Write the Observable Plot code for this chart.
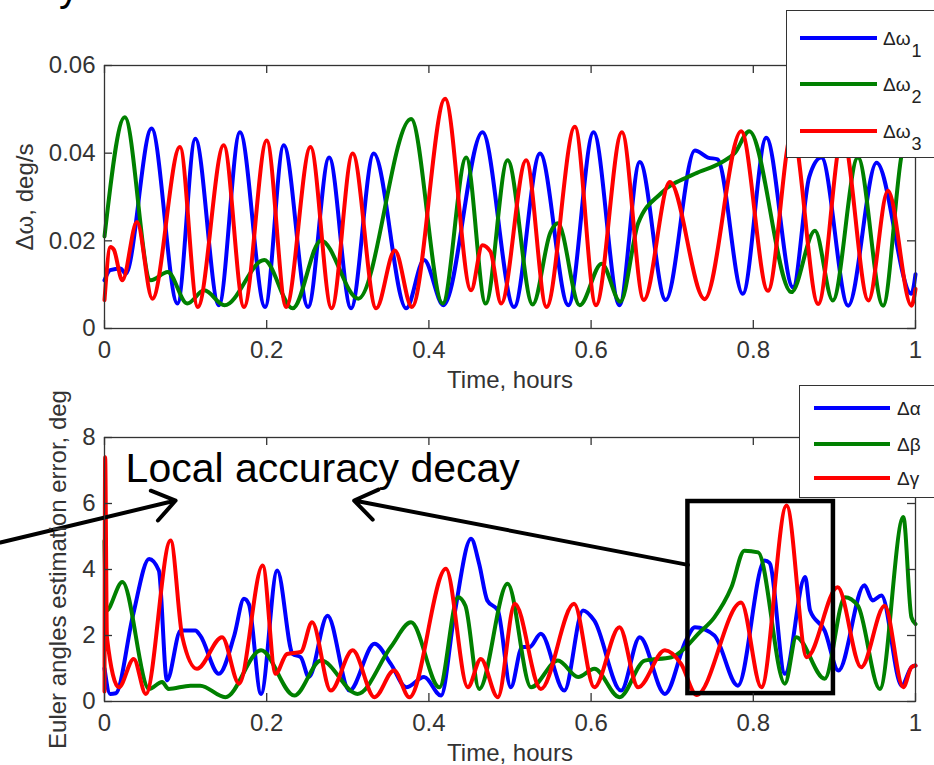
<!DOCTYPE html>
<html><head><meta charset="utf-8">
<script src="https://cdn.jsdelivr.net/npm/d3@7"></script>
<script src="https://cdn.jsdelivr.net/npm/@observablehq/plot@0.6"></script>
<style>
body{margin:0;background:#fff;font-family:"Liberation Sans",Arial,sans-serif;}
#wrap{position:relative;width:934px;height:765px;overflow:hidden;background:#fff;}
.panel{position:absolute;left:0;}
.legend{position:absolute;background:#fff;border:1px solid #333;box-sizing:border-box;}
.legend .ln{position:absolute;height:4px;}
.legend .lt{position:absolute;font-size:19px;line-height:19px;color:#222;white-space:nowrap;}
.legend .sub{position:relative;top:12px;font-size:18px;margin-left:1px;}
</style></head><body><div id="wrap"></div>
<script>
// ---------- data ----------
const xTicks = [0, 0.2, 0.4, 0.6, 0.8, 1];
const xTickLabels = ["0", "0.2", "0.4", "0.6", "0.8", "1"];
const topYTicks = [0, 0.02, 0.04, 0.06];
const topYTickLabels = ["0", "0.02", "0.04", "0.06"];
const botYTicks = [0, 2, 4, 6, 8];
const botYTickLabels = ["0", "2", "4", "6", "8"];
const xLabel = "Time, hours";
const topYLabel = "Δω, deg/s";
const botYLabel = "Euler angles estimation error, deg";
const topSeries = ["Δω1", "Δω2", "Δω3"];
const topLegendBase = ["Δω", "Δω", "Δω"];
const topLegendSub = ["1", "2", "3"];
const botSeries = ["Δα", "Δβ", "Δγ"];
const seriesColors = ["#0000ff", "#008000", "#ff0000"];

// top panel: angular rate errors [time h, deg/s]
const dw1 = [[0,0.011],[0.007,0.0133],[0.02,0.0137],[0.026,0.0125],[0.058,0.0456],[0.090,0.0057],[0.112,0.0433],[0.141,0.0053],[0.167,0.0448],[0.198,0.0049],[0.221,0.0418],[0.251,0.0049],[0.277,0.039],[0.304,0.0046],[0.332,0.0399],[0.372,0.0046],[0.394,0.0156],[0.418,0.0053],[0.466,0.0448],[0.505,0.0049],[0.537,0.0399],[0.572,0.0053],[0.603,0.0448],[0.635,0.0053],[0.660,0.038],[0.692,0.0065],[0.728,0.0406],[0.744,0.039],[0.756,0.0386],[0.787,0.0079],[0.816,0.0435],[0.849,0.0094],[0.869,0.0346],[0.884,0.039],[0.917,0.0052],[0.952,0.0378],[0.995,0.0079],[1.0,0.0124]];
const dw2 = [[0,0.021],[0.025,0.0482],[0.057,0.011],[0.078,0.0129],[0.102,0.0057],[0.123,0.0087],[0.148,0.0053],[0.197,0.0156],[0.232,0.0046],[0.267,0.0201],[0.313,0.0068],[0.378,0.0478],[0.417,0.0057],[0.446,0.039],[0.470,0.0057],[0.497,0.0384],[0.528,0.0055],[0.550,0.022],[0.559,0.024],[0.586,0.0053],[0.613,0.0148],[0.636,0.0061],[0.658,0.024],[0.686,0.0308],[0.728,0.0353],[0.760,0.0378],[0.777,0.040],[0.795,0.045],[0.847,0.0083],[0.876,0.0223],[0.898,0.0064],[0.929,0.039],[0.960,0.0052],[0.983,0.0397],[0.992,0.046]];
const dw3 = [[0,0.0065],[0.0074,0.0186],[0.0115,0.018],[0.022,0.011],[0.040,0.0243],[0.059,0.0068],[0.093,0.0414],[0.115,0.0049],[0.147,0.0418],[0.172,0.0049],[0.200,0.0429],[0.224,0.0049],[0.254,0.0414],[0.280,0.0046],[0.306,0.0399],[0.335,0.0046],[0.358,0.0178],[0.379,0.0049],[0.420,0.0524],[0.452,0.0087],[0.466,0.019],[0.476,0.0175],[0.489,0.0057],[0.520,0.0384],[0.545,0.0049],[0.580,0.046],[0.606,0.0053],[0.638,0.0448],[0.665,0.0065],[0.697,0.0334],[0.740,0.0067],[0.785,0.045],[0.818,0.0086],[0.848,0.045],[0.880,0.0056],[0.910,0.044],[0.942,0.0064],[0.966,0.0314],[0.995,0.0052],[1.0,0.009]];

// bottom panel: Euler angle errors [time h, deg]
const dAlpha = [[0,1.0],[0.007,0.23],[0.014,0.25],[0.035,2.6],[0.055,4.32],[0.067,3.97],[0.077,0.64],[0.094,2.15],[0.112,2.15],[0.118,2.0],[0.141,0.84],[0.160,2.0],[0.172,3.11],[0.178,2.95],[0.193,0.23],[0.213,3.97],[0.232,1.44],[0.242,1.34],[0.252,0.74],[0.275,2.6],[0.302,0.33],[0.333,1.75],[0.353,1.14],[0.372,0.43],[0.394,0.74],[0.415,0.18],[0.431,2.56],[0.452,4.93],[0.462,4.17],[0.472,3.06],[0.485,2.76],[0.501,0.43],[0.515,1.65],[0.524,1.65],[0.538,2.05],[0.567,0.33],[0.590,2.76],[0.604,2.45],[0.637,0.33],[0.660,1.95],[0.691,0.23],[0.717,1.85],[0.728,2.25],[0.752,2.0],[0.781,0.48],[0.814,4.27],[0.820,4.2],[0.839,0.84],[0.864,3.77],[0.870,2.76],[0.888,2.15],[0.905,0.94],[0.937,3.52],[0.947,3.06],[0.958,3.21],[0.983,0.48],[0.995,1.04],[1.0,1.09]];
const dBeta = [[0,4.87],[0.002,2.75],[0.022,3.62],[0.055,0.38],[0.071,0.59],[0.079,0.38],[0.106,0.48],[0.118,0.48],[0.149,0.13],[0.193,1.55],[0.234,0.18],[0.267,1.24],[0.312,0.23],[0.353,1.65],[0.378,2.4],[0.413,0.43],[0.436,3.16],[0.445,2.9],[0.462,0.38],[0.497,3.57],[0.526,0.43],[0.559,1.24],[0.584,0.74],[0.604,0.99],[0.635,0.13],[0.666,1.24],[0.699,1.34],[0.717,1.65],[0.732,2.05],[0.752,2.55],[0.773,3.46],[0.789,4.57],[0.806,4.52],[0.839,0.54],[0.853,1.95],[0.888,0.69],[0.913,3.16],[0.929,2.9],[0.956,0.38],[0.985,5.59],[0.995,2.55],[1.0,2.35]];
const dGamma = [[0,0.3],[0.0008,7.4],[0.003,1.95],[0.0177,0.43],[0.036,1.29],[0.051,0.23],[0.0815,4.88],[0.096,1.95],[0.114,0.99],[0.145,1.95],[0.166,0.54],[0.195,4.12],[0.211,0.84],[0.225,1.44],[0.242,1.5],[0.256,2.4],[0.279,0.33],[0.306,1.55],[0.333,0.13],[0.357,0.94],[0.376,0.13],[0.421,4.02],[0.448,0.43],[0.464,1.29],[0.485,0.13],[0.506,2.96],[0.538,0.38],[0.579,2.96],[0.604,0.43],[0.635,2.25],[0.658,0.43],[0.691,1.55],[0.711,1.14],[0.730,0.2],[0.785,3.0],[0.810,0.43],[0.841,5.94],[0.866,1.34],[0.904,3.46],[0.933,1.04],[0.962,2.9],[0.985,0.43],[0.995,1.04],[1.0,1.09]];

// annotations (bottom panel, data units)
const annoText = [{x: 0.026, y: 7.06, text: "Local accuracy decay"}];
const annoArrows = [{x1: -0.1284, y1: 4.82, x2: 0.0877, y2: 6.09}, {x1: 0.7194, y1: 4.14, x2: 0.3078, y2: 6.09}];
const annoBox = [{x1: 0.7194, x2: 0.8988, y1: 0.24, y2: 6.06}];

// ---------- build ----------
const wrap = document.getElementById("wrap");
const W = 934, ML = 104, MR = 19;
const font = "'Liberation Sans', Arial, Helvetica, sans-serif";

function toRows(list, names) {
  return list.flatMap((s, k) => s.map(([t, v]) => ({t, v, series: names[k]})));
}

function panel({rows, names, yDomain, yTicks, yTickLabels, yLabel, height, mt, mb, yLabDx, extra}) {
  const innerW = W - ML - MR, innerH = height - mt - mb;
  const stroke = "#333";
  return Plot.plot({
    width: W, height,
    marginLeft: ML, marginRight: MR, marginTop: mt, marginBottom: mb,
    style: {background: "none", fontFamily: font, fontSize: "24px", color: "#333", overflow: "visible"},
    x: {domain: [0, 1]},
    y: {domain: yDomain},
    color: {domain: names, range: seriesColors},
    marks: [
      Plot.line(rows, {x: "t", y: "v", z: "series", stroke: "series", strokeWidth: 4, curve: "monotone-x"}),
      ...extra,
      Plot.frame({stroke, strokeWidth: 1.3}),
      Plot.tickX(xTicks, {x: d => d, insetTop: innerH - 8, stroke, strokeWidth: 1.3}),
      Plot.tickX(xTicks, {x: d => d, insetBottom: innerH - 8, stroke, strokeWidth: 1.3}),
      Plot.tickY(yTicks, {y: d => d, insetRight: innerW - 8, stroke, strokeWidth: 1.3}),
      Plot.tickY(yTicks, {y: d => d, insetLeft: innerW - 8, stroke, strokeWidth: 1.3}),
      Plot.axisX(xTicks, {tickSize: 0, tickPadding: 12, tickFormat: d => xTickLabels[xTicks.indexOf(d)], label: null}),
      Plot.axisY(yTicks, {tickSize: 0, tickPadding: 9, tickFormat: d => yTickLabels[yTicks.indexOf(d)], label: null}),
      Plot.text([xLabel], {frameAnchor: "bottom", dy: 52, text: d => d, textAnchor: "middle", lineAnchor: "middle"}),
      Plot.text([yLabel], {frameAnchor: "left", dx: yLabDx, rotate: -90, text: d => d, textAnchor: "middle", lineAnchor: "middle"})
    ]
  });
}

const topPlot = panel({
  rows: toRows([dw1, dw2, dw3], topSeries), names: topSeries,
  yDomain: [0, 0.06], yTicks: topYTicks, yTickLabels: topYTickLabels, yLabel: topYLabel,
  height: 390, mt: 65, mb: 62, yLabDx: -79, extra: []
});
topPlot.classList.add("panel"); topPlot.style.top = "0px";

const botPlot = panel({
  rows: toRows([dAlpha, dBeta, dGamma], botSeries), names: botSeries,
  yDomain: [0, 8], yTicks: botYTicks, yTickLabels: botYTickLabels, yLabel: botYLabel,
  height: 380, mt: 52, mb: 64, yLabDx: -46,
  extra: [
    Plot.rect(annoBox, {x1: "x1", x2: "x2", y1: "y1", y2: "y2", fill: "none", stroke: "black", strokeWidth: 4.5}),
    Plot.arrow(annoArrows, {x1: "x1", y1: "y1", x2: "x2", y2: "y2", stroke: "black", strokeWidth: 4, headLength: 10, headAngle: 70}),
    Plot.text(annoText, {x: "x", y: "y", text: "text", textAnchor: "start", fontSize: 41, fill: "black"})
  ]
});
botPlot.classList.add("panel"); botPlot.style.top = "385px";

wrap.appendChild(topPlot);
wrap.appendChild(botPlot);

// partial title glyph at the very top (cropped in the original)
const ttl = document.createElementNS("http://www.w3.org/2000/svg", "svg");
ttl.setAttribute("width", 120); ttl.setAttribute("height", 20);
ttl.style.position = "absolute"; ttl.style.left = "0px"; ttl.style.top = "0px";
const tt = document.createElementNS("http://www.w3.org/2000/svg", "text");
tt.setAttribute("x", 59); tt.setAttribute("y", 1); tt.setAttribute("font-size", 40);
tt.setAttribute("font-family", "Liberation Sans, Arial, sans-serif");
tt.textContent = "y";
ttl.appendChild(tt); wrap.appendChild(ttl);

// legends
function legend({left, top, width, height, lineLeft, lineWidth, textLeft, rowsY, base, sub}) {
  const box = document.createElement("div");
  box.className = "legend";
  Object.assign(box.style, {left: left + "px", top: top + "px", width: width + "px", height: height + "px"});
  base.forEach((b, i) => {
    const ln = document.createElement("div");
    ln.className = "ln";
    Object.assign(ln.style, {left: lineLeft + "px", top: (rowsY[i] - 2) + "px", width: lineWidth + "px", background: seriesColors[i]});
    box.appendChild(ln);
    const tx = document.createElement("div");
    tx.className = "lt";
    Object.assign(tx.style, {left: textLeft + "px", top: (rowsY[i] - 9.5) + "px"});
    tx.appendChild(document.createTextNode(b));
    if (sub) { const s = document.createElement("span"); s.className = "sub"; s.textContent = sub[i]; tx.appendChild(s); }
    box.appendChild(tx);
  });
  wrap.appendChild(box);
}
legend({left: 786, top: 10, width: 170, height: 148, lineLeft: 13, lineWidth: 77, textLeft: 96, rowsY: [27, 73, 120], base: topLegendBase, sub: topLegendSub});
legend({left: 799, top: 385, width: 160, height: 113, lineLeft: 14, lineWidth: 76, textLeft: 97, rowsY: [22, 58, 92], base: botSeries, sub: null});
</script></body></html>
